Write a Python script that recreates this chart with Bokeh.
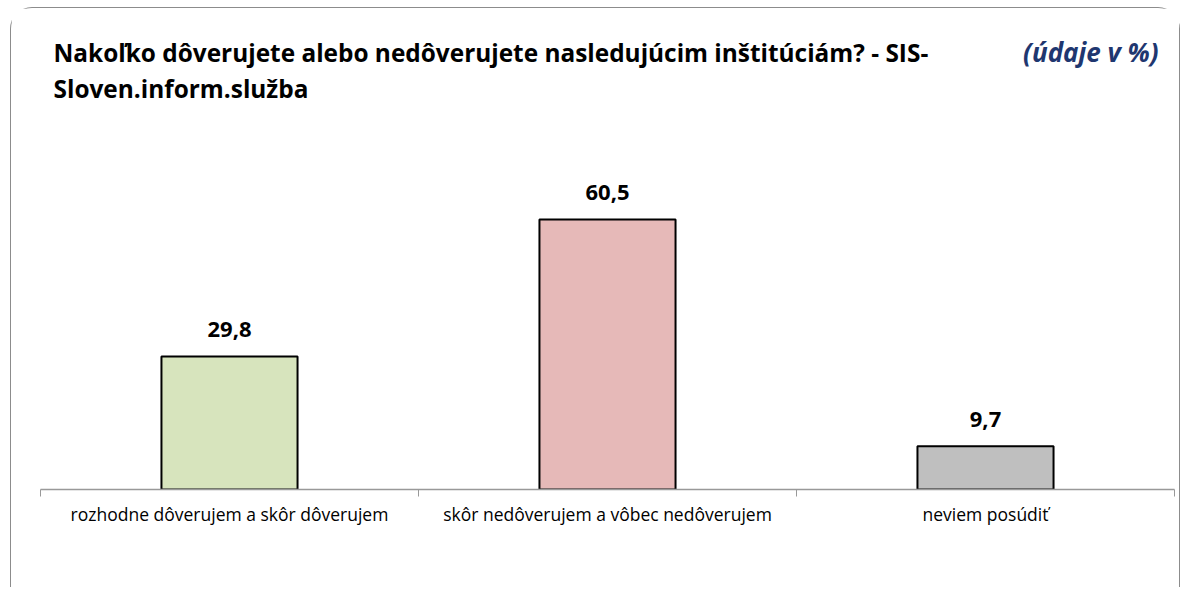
from bokeh.plotting import figure
from bokeh.models import ColumnDataSource, FixedTicker, Range1d
from bokeh.core.properties import value
from bokeh.embed import file_html
from bokeh.resources import INLINE

categories = ["rozhodne dôverujem a skôr dôverujem",
              "skôr nedôverujem a vôbec nedôverujem",
              "neviem posúdiť"]
values = [29.8, 60.5, 9.7]
value_labels = ["29,8", "60,5", "9,7"]
colors = ["#D7E4BD", "#E6B9B8", "#BFBFBF"]
title_line1 = "Nakoľko dôverujete alebo nedôverujete nasledujúcim inštitúciám? - SIS-"
title_line2 = "Sloven.inform.služba"
unit_note = "(údaje v %)"

FONT = "Open Sans"

xs = [i + 0.5 for i in range(len(categories))]
src = ColumnDataSource(dict(x=xs, top=values, color=colors, lbl=value_labels))

p = figure(width=1170, height=580, output_backend="svg", toolbar_location=None,
           x_range=Range1d(0, 3), y_range=Range1d(0, 105.1),
           min_border_left=29, min_border_right=7, min_border_top=12, min_border_bottom=99,
           styles={"border": "1px solid #8c8c8c", "border-bottom": "none",
                   "border-radius": "22px 22px 0 0",
                   "margin-left": "10px", "margin-top": "7px"})
p.outline_line_color = None
p.grid.visible = False
p.yaxis.visible = False

p.vbar(x="x", top="top", bottom=0, width=0.36, fill_color="color",
       line_color="black", line_width=2, source=src)

p.text(x="x", y="top", text="lbl", source=src, y_offset=-27,
       text_align="center", text_baseline="middle",
       text_font=value(FONT), text_font_style="bold", text_font_size="22px",
       text_color="black")

ax = p.xaxis[0]
ax.ticker = FixedTicker(ticks=xs, minor_ticks=[0, 1, 2, 3])
ax.major_label_overrides = {x: c for x, c in zip(xs, categories)}
ax.major_tick_out = 0
ax.major_tick_in = 0
ax.minor_tick_out = 7
ax.minor_tick_in = 0
ax.minor_tick_line_color = "#999999"
ax.axis_line_color = "#999999"
ax.axis_line_width = 1.5
ax.major_label_text_font = FONT
ax.major_label_text_font_size = "17.5px"
ax.major_label_text_color = "black"
ax.major_label_standoff = 5

p.text(x=[0.0344], y=[98.0], text=[title_line1],
       text_font=value(FONT), text_font_style="bold", text_font_size="24.4px",
       text_baseline="middle", text_align="left", text_color="black")
p.text(x=[0.0344], y=[89.9], text=[title_line2],
       text_font=value(FONT), text_font_style="bold", text_font_size="24.4px",
       text_baseline="middle", text_align="left", text_color="black")
p.text(x=[2.958], y=[98.0], text=[unit_note],
       text_font=value(FONT), text_font_style="bold italic", text_font_size="26px",
       text_baseline="middle", text_align="right", text_color="#1F3770")

open("out.html", "w").write(file_html(p, INLINE))
